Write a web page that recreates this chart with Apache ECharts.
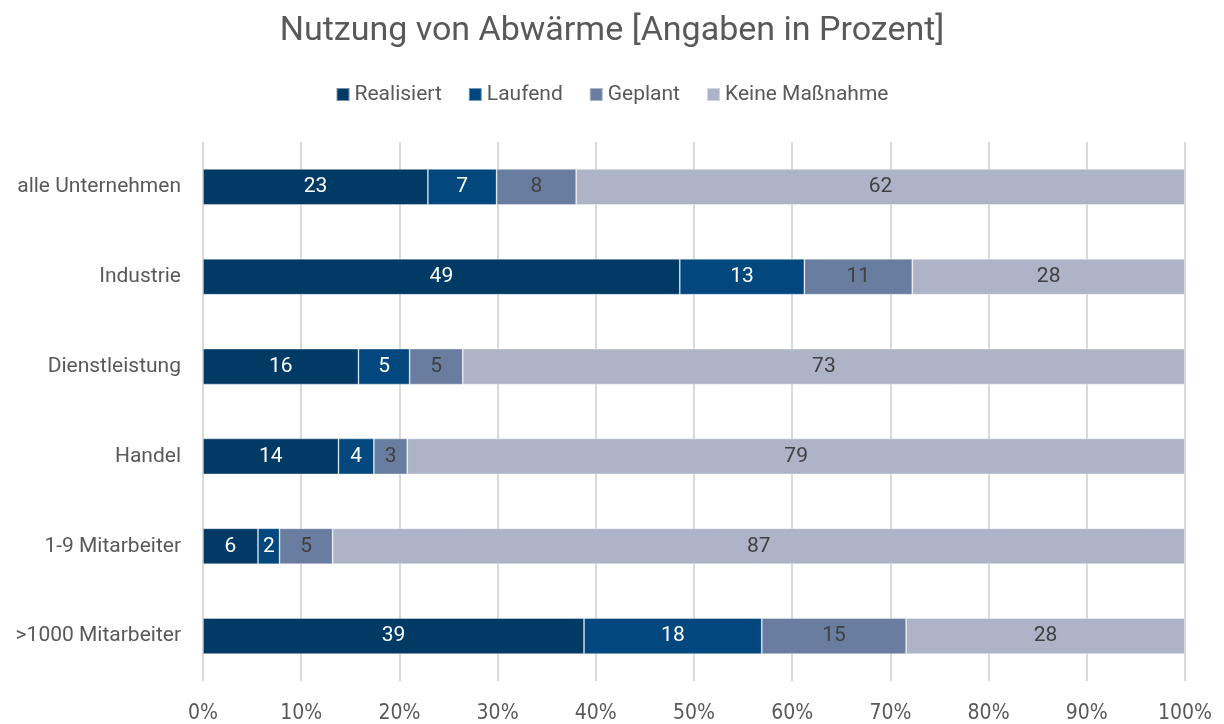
<!DOCTYPE html>
<html>
<head>
<meta charset="utf-8">
<script src="https://cdn.jsdelivr.net/npm/echarts@6/dist/echarts.min.js"></script>
<style>
  html, body { margin: 0; padding: 0; background: #fff; }
  #chart { width: 1224px; height: 724px; }
</style>
</head>
<body>
<div id="chart"></div>
<script>
// Nutzung von Abwärme – 100%-gestapelte Balken je Gruppe
const categories = ['alle Unternehmen', 'Industrie', 'Dienstleistung', 'Handel', '1-9 Mitarbeiter', '>1000 Mitarbeiter'];
const seriesNames = ['Realisiert', 'Laufend', 'Geplant', 'Keine Maßnahme'];

// Anteile je Kategorie (Beschriftung gerundet)
const realisiert = [22.9, 48.6, 15.8, 13.8, 5.6, 38.8];
const laufend    = [7.0, 12.7, 5.2, 3.6, 2.2, 18.1];
const geplant    = [8.1, 11.0, 5.4, 3.4, 5.4, 14.7];
const keine      = [62.0, 27.8, 73.4, 79.2, 86.8, 28.4];

const xTicks = [0, 10, 20, 30, 40, 50, 60, 70, 80, 90, 100];

const COLORS = ['#023a66', '#02487f', '#687d9f', '#adb4c8'];
const LABEL_COLORS = ['#ffffff', '#ffffff', '#404040', '#404040'];
const FONT = 'Roboto, "Noto Sans", sans-serif';
const TEXT = '#595959';

const raw = [realisiert, laufend, geplant, keine];
// Excel stapelt auf 100 %: jede Zeile auf ihre Summe normieren
const totals = categories.map((_, i) => raw.reduce((s, arr) => s + arr[i], 0));

const chart = echarts.init(document.getElementById('chart'));

chart.setOption({
  backgroundColor: '#fff',
  animation: false,
  title: {
    text: 'Nutzung von Abwärme [Angaben in Prozent]',
    left: 'center', top: 9,
    textStyle: { fontFamily: FONT, fontWeight: 'normal', fontSize: 34, color: TEXT },
  },
  legend: {
    top: 79, left: 'center',
    itemWidth: 13, itemHeight: 13, itemGap: 26,
    icon: 'rect',
    textStyle: { fontFamily: FONT, fontSize: 21, color: TEXT },
    data: seriesNames,
  },
  grid: { left: 203, right: 39, top: 142, bottom: 42 },
  xAxis: {
    type: 'value', min: 0, max: 100, interval: 10,
    axisLine: { show: false },
    axisTick: { show: false },
    splitLine: { lineStyle: { color: '#d9d9d9', width: 2 } },
    axisLabel: {
      margin: 22,
      fontFamily: '"Liberation Sans Narrow", "DejaVu Sans Condensed", sans-serif',
      fontSize: 21, color: TEXT,
      formatter: v => xTicks.includes(v) ? v + '%' : '',
    },
  },
  yAxis: {
    type: 'category', inverse: true,
    data: categories,
    axisLine: { show: false },
    axisTick: { show: false },
    axisLabel: { margin: 22, fontFamily: FONT, fontSize: 21, color: TEXT },
  },
  series: raw.map((arr, k) => ({
    name: seriesNames[k],
    type: 'bar',
    stack: 'total',
    barWidth: '40%',
    itemStyle: { color: COLORS[k], borderColor: 'rgba(255,255,255,0.45)', borderWidth: 0.8 },
    label: {
      show: true, position: 'inside',
      fontFamily: FONT, fontSize: 21, color: LABEL_COLORS[k],
      formatter: p => Math.round(arr[p.dataIndex]),
    },
    data: arr.map((v, i) => v / totals[i] * 100),
  })),
});
</script>
</body>
</html>
